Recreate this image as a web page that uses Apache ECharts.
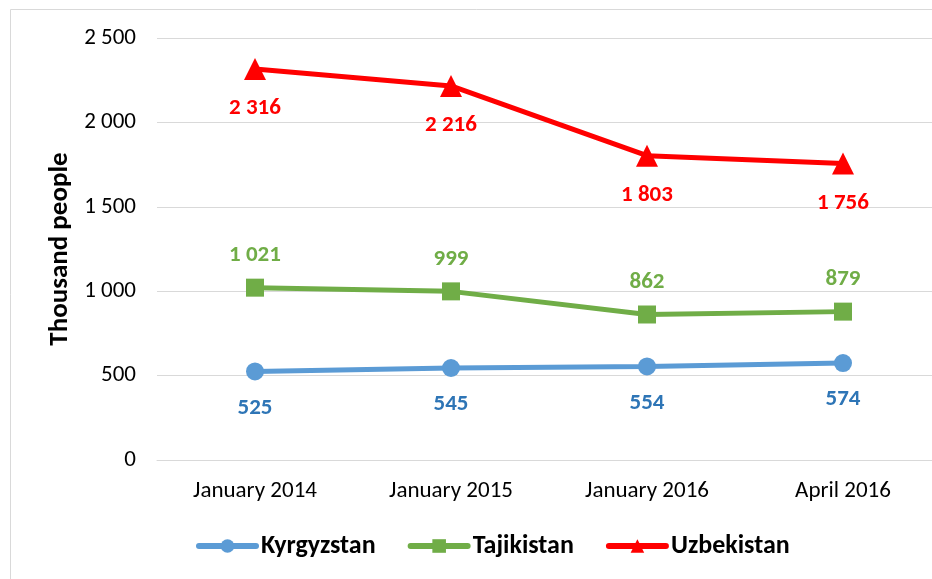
<!DOCTYPE html>
<html>
<head>
<meta charset="utf-8">
<script src="https://cdn.jsdelivr.net/npm/echarts@6/dist/echarts.min.js"></script>
<style>
  html, body { margin: 0; padding: 0; background: #fff; overflow: hidden; }
  /* plot area runs slightly past the right edge of the picture */
  #chart { width: 941px; height: 579px; }
</style>
</head>
<body>
<div id="chart"></div>
<script>
const categories = ['January 2014', 'January 2015', 'January 2016', 'April 2016']
const kyrgyzstan = [525, 545, 554, 574]
const tajikistan = [1021, 999, 862, 879]
const uzbekistan = [2316, 2216, 1803, 1756]

const FONT = "Carlito, 'Liberation Sans Narrow', 'Open Sans', sans-serif"

// 2 500 style thousand separator
const fmt = v => String(v).replace(/\B(?=(\d{3})+(?!\d))/g, ' ')

function lineSeries(name, data, color, labelColor, symbol, size, pos, dist) {
  return {
    name, type: 'line', data,
    symbol, symbolSize: size,
    lineStyle: { color, width: 5 },
    itemStyle: { color },
    label: {
      show: true, position: pos, distance: dist,
      color: labelColor, fontFamily: FONT, fontWeight: 'bold', fontSize: 23,
      formatter: p => fmt(p.value)
    }
  }
}

const chart = echarts.init(document.getElementById('chart'))
chart.setOption({
  animation: false,
  textStyle: { fontFamily: FONT },
  graphic: [{
    type: 'rect', shape: { x: 10.5, y: 9.5, width: 940, height: 600 },
    style: { fill: 'none', stroke: '#D9D9D9', lineWidth: 1 }, silent: true
  }],
  grid: { left: 157, right: 0, top: 38, bottom: 119, containLabel: false },
  legend: {
    top: 528, left: 191, itemGap: 32, itemWidth: 57, itemHeight: 17,
    lineStyle: { width: 6, cap: 'round' },
    textStyle: { fontFamily: FONT, fontWeight: 'bold', fontSize: 26, color: '#000' }
  },
  xAxis: {
    type: 'category', data: categories,
    axisLine: { lineStyle: { color: '#D9D9D9' } },
    axisTick: { show: false },
    axisLabel: { color: '#000', fontSize: 23, fontFamily: FONT, margin: 20 }
  },
  yAxis: {
    type: 'value', min: 0, max: 2500, interval: 500,
    name: 'Thousand people', nameLocation: 'middle', nameGap: 81,
    nameTextStyle: { color: '#000', fontSize: 27, fontWeight: 'bold', fontFamily: FONT },
    axisLine: { show: false }, axisTick: { show: false },
    axisLabel: { color: '#000', fontSize: 23, fontFamily: FONT, margin: 21, formatter: v => fmt(v) },
    splitLine: { lineStyle: { color: '#D9D9D9' } }
  },
  series: [
    lineSeries('Kyrgyzstan', kyrgyzstan, '#5B9BD5', '#2E75B6', 'circle', 18, 'bottom', 16),
    lineSeries('Tajikistan', tajikistan, '#70AD47', '#70AD47', 'rect', 18, 'top', 12),
    lineSeries('Uzbekistan', uzbekistan, '#FF0000', '#FF0000', 'triangle', 22, 'bottom', 17)
  ]
})
</script>
</body>
</html>
